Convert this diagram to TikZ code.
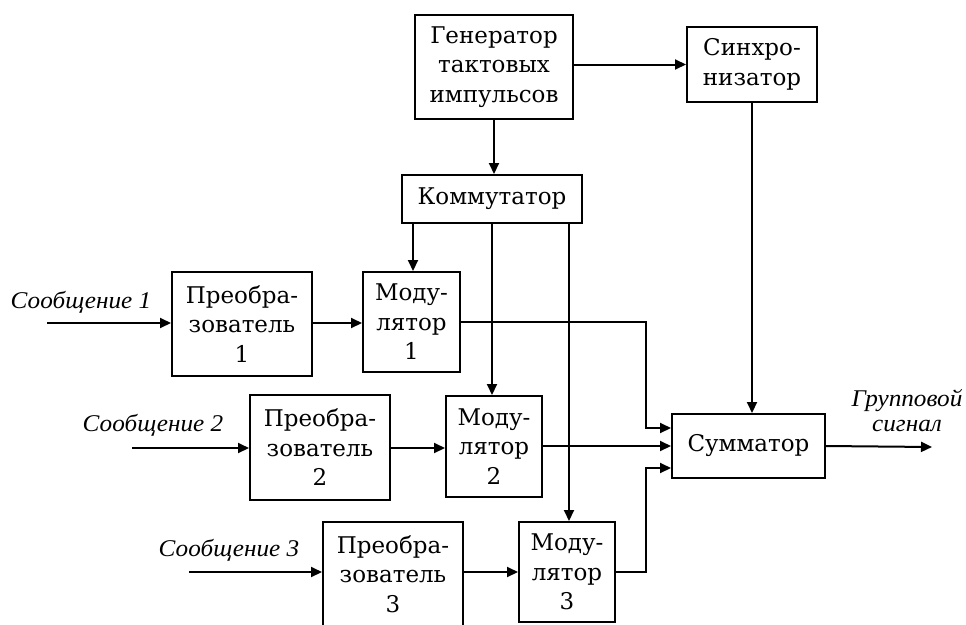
\documentclass[tikz,border=0pt]{standalone}
\usepackage{fontspec}
\setmainfont{DejaVu Serif}
\newfontfamily\lblfont{Liberation Serif}[FakeStretch=1.05]
\usetikzlibrary{arrows.meta}
\begin{document}
\begin{tikzpicture}[x=1pt,y=-1pt,
  blk/.style={draw,line width=2pt,align=center,inner sep=0pt,
    font=\fontsize{23}{29.5}\selectfont},
  con/.style={line width=2pt},
  arr/.style={con,-{Triangle[length=11pt,width=10pt]}},
  lbl/.style={font=\lblfont\itshape\fontsize{24}{25}\selectfont,align=center,inner sep=0pt}]
\useasboundingbox (0,0) rectangle (966,624);
% blocks
\node[blk,minimum width=158pt,minimum height=104pt] (gen) at (494,67) {Генератор\\тактовых\\импульсов};
\node[blk,minimum width=130pt,minimum height=75pt] (sync) at (752,64.5) {Синхро-\\низатор};
\node[blk,minimum width=180pt,minimum height=48pt] (kom) at (492,199) {Коммутатор};
\node[blk,minimum width=140pt,minimum height=104pt] (p1) at (242,324) {Преобра-\\зователь\\1};
\node[blk,minimum width=97pt,minimum height=100pt] (m1) at (411.5,322) {Моду-\\лятор\\1};
\node[blk,minimum width=140pt,minimum height=105pt] (p2) at (320,447.5) {Преобра-\\зователь\\2};
\node[blk,minimum width=96pt,minimum height=101pt] (m2) at (494,446.5) {Моду-\\лятор\\2};
\node[blk,minimum width=140pt,minimum height=104pt] (p3) at (393,574) {Преобра-\\зователь\\3};
\node[blk,minimum width=96pt,minimum height=100pt] (m3) at (567,572) {Моду-\\лятор\\3};
\node[blk,minimum width=153pt,minimum height=64pt] (sum) at (748.5,446) {Сумматор};
% labels
\node[lbl] (l1) at (81,302) {Сообщение 1};
\node[lbl] (l2) at (153,425) {Сообщение 2};
\node[lbl] (l3) at (229,550) {Сообщение 3};
\node[lbl] (lout) at (907,411) {Групповой\\сигнал};
% free ends
\coordinate (in1) at (47,323);
\coordinate (in2) at (132,448);
\coordinate (in3) at (189,572);
\coordinate (out) at (932,447);
\coordinate (b1) at (646,428);
\coordinate (b3) at (646,468);
% connectors
\draw[arr] (gen.east |- sync.west) -- (sync.west);
\draw[arr] (gen.south) -- (gen.south |- kom.north);
\draw[arr] ([xshift=1.5pt]m1.north |- kom.south) -- ([xshift=1.5pt]m1.north);
\draw[arr] ([xshift=-2pt]m2.north |- kom.south) -- ([xshift=-2pt]m2.north);
\draw[arr] ([xshift=2pt]m3.north |- kom.south) -- ([xshift=2pt]m3.north);
\draw[arr] (sync.south) -- (sync.south |- sum.north);
\draw[arr] (in1) -- (p1.west |- in1);
\draw[arr] (p1.east |- in1) -- (m1.west |- in1);
\draw[arr] (in2) -- (p2.west |- in2);
\draw[arr] (p2.east |- in2) -- (m2.west |- in2);
\draw[arr] (in3) -- (p3.west |- in3);
\draw[arr] (p3.east |- in3) -- (m3.west |- in3);
\draw[arr] (m1.east) -| (b1) -- (sum.west |- b1);
\draw[arr] (m2.east |- sum.west) -- (sum.west);
\draw[arr] (m3.east) -| (b3) -- (sum.west |- b3);
\draw[arr] (sum.east) -- (out);
\end{tikzpicture}
\end{document}
